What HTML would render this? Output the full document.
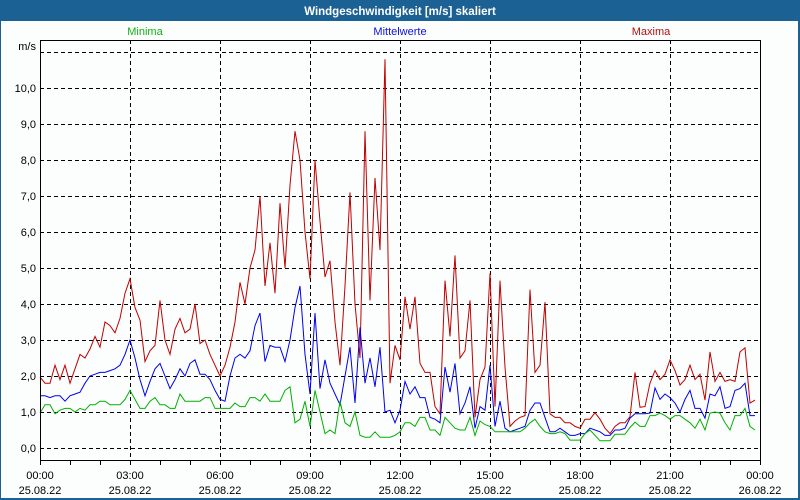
<!DOCTYPE html>
<html><head><meta charset="utf-8"><style>
body{margin:0;background:#fff;}
svg{display:block;font-family:"Liberation Sans","DejaVu Sans",sans-serif;}
</style></head><body>
<svg width="800" height="500" viewBox="0 0 800 500" id="chart">
<rect x="0" y="0" width="800" height="500" fill="#1c6194"/>
<rect x="1" y="21" width="797" height="477" fill="#fcfefe"/>
<text x="400" y="15" text-anchor="middle" fill="#fff" font-size="11.5" font-weight="bold">Windgeschwindigkeit [m/s] skaliert</text>
<text x="145" y="35" text-anchor="middle" fill="#12b012" font-size="11">Minima</text>
<text x="400" y="35" text-anchor="middle" fill="#1010d0" font-size="11">Mittelwerte</text>
<text x="651" y="35" text-anchor="middle" fill="#b01010" font-size="11">Maxima</text>
<text x="36" y="50" text-anchor="end" fill="#000" font-size="11">m/s</text>
<g id="grid"></g>
<g id="series"></g>
<rect x="40.5" y="40.5" width="720" height="420" fill="none" stroke="#000" stroke-width="1"/>
<g id="axes"></g>
</svg>
<script>
const yTicks=[0,1,2,3,4,5,6,7,8,9,10];
const yTickLabels=["0,0","1,0","2,0","3,0","4,0","5,0","6,0","7,0","8,0","9,0","10,0"];
const xTickHours=[0,3,6,9,12,15,18,21,24];
const xTimeLabels=["00:00","03:00","06:00","09:00","12:00","15:00","18:00","21:00","00:00"];
const xDateLabels=["25.08.22","25.08.22","25.08.22","25.08.22","25.08.22","25.08.22","25.08.22","25.08.22","26.08.22"];
const maxima=[1.97,1.8,1.8,2.3,1.9,2.3,1.8,2.2,2.6,2.5,2.75,3.1,
2.8,3.5,3.4,3.2,3.6,4.3,4.7,3.9,3.55,2.4,2.7,2.85,
4.1,3.0,2.6,3.3,3.6,3.2,3.3,4.0,2.9,3.0,2.6,2.3,
2.0,2.3,2.8,3.5,4.6,4.0,5.0,5.5,7.0,4.5,5.7,4.3,
6.8,5.0,7.3,8.8,8.0,6.0,4.7,8.0,6.3,4.75,5.2,3.5,
2.3,4.5,7.1,4.0,2.5,8.8,4.1,7.5,5.5,10.8,1.8,2.85,
2.45,4.2,3.3,4.2,2.35,2.1,2.1,1.15,0.95,4.65,3.1,5.35,
2.5,2.7,4.1,0.85,1.9,2.25,4.85,1.15,4.65,2.25,0.6,0.75,
0.85,0.9,4.4,2.1,2.3,4.05,0.95,0.85,0.85,0.7,0.7,0.6,
0.55,0.8,0.8,0.98,0.8,0.55,0.4,0.6,0.7,0.7,0.87,2.1,
1.13,1.15,1.8,2.15,1.9,2.05,2.45,2.15,1.75,1.9,2.3,1.9,
2.05,1.33,2.67,1.85,2.1,1.85,1.9,1.85,2.67,2.78,1.25,1.33];
const mittelwerte=[1.45,1.45,1.4,1.45,1.45,1.3,1.45,1.5,1.55,1.8,2.0,2.05,
2.1,2.1,2.15,2.2,2.3,2.6,3.0,2.5,1.9,1.45,1.85,2.2,
2.35,2.0,1.65,1.9,2.2,2.0,2.35,2.45,2.05,2.05,1.9,1.6,
1.35,1.3,2.0,2.5,2.6,2.5,2.7,3.4,3.75,2.4,2.85,2.8,
2.8,2.4,3.0,3.9,4.5,2.6,1.5,3.75,1.65,2.45,1.8,1.5,
1.2,2.0,2.8,1.25,3.35,1.8,2.5,1.7,2.8,1.0,1.05,0.7,
1.05,1.85,1.5,1.7,1.4,1.4,0.85,0.8,0.7,2.25,1.55,2.35,
0.95,1.25,1.7,0.55,1.15,1.05,2.3,0.6,1.3,0.55,0.45,0.5,
0.55,0.6,1.05,1.25,1.25,0.85,0.45,0.45,0.55,0.45,0.35,0.35,
0.4,0.4,0.55,0.5,0.45,0.35,0.35,0.5,0.5,0.55,0.83,0.95,
0.95,0.95,0.97,1.67,1.35,1.5,1.4,1.25,1.0,1.35,1.6,1.1,
1.1,0.83,1.5,1.45,1.7,1.1,1.15,1.6,1.65,1.8,0.9,0.9];
const minima=[0.97,1.2,1.2,0.95,1.05,1.1,1.1,1.0,1.1,1.05,1.2,1.2,
1.3,1.3,1.2,1.2,1.2,1.35,1.6,1.35,1.1,1.1,1.3,1.4,
1.2,1.2,1.1,1.1,1.5,1.3,1.3,1.3,1.3,1.4,1.4,1.1,
1.1,1.1,1.1,1.25,1.15,1.15,1.4,1.4,1.3,1.5,1.3,1.3,
1.3,1.6,1.7,0.7,0.8,1.3,0.6,1.6,1.0,0.4,0.5,0.4,
1.3,0.7,0.6,1.0,0.35,0.3,0.3,0.45,0.3,0.3,0.3,0.35,
0.45,0.7,0.7,0.6,0.85,0.85,0.5,0.5,0.35,0.85,0.7,0.55,
0.5,0.5,0.85,0.35,0.75,0.65,0.6,0.45,0.45,0.45,0.45,0.45,
0.45,0.55,0.7,0.8,0.6,0.45,0.4,0.4,0.45,0.4,0.22,0.22,
0.22,0.4,0.5,0.35,0.2,0.2,0.2,0.38,0.38,0.38,0.57,0.72,
0.6,0.6,0.9,0.9,0.97,0.9,0.8,0.9,0.9,0.8,0.7,0.55,
0.8,0.5,0.97,1.0,0.97,0.7,0.5,0.9,0.9,1.1,0.6,0.5];

const NS="http://www.w3.org/2000/svg";
const X0=40,X1=760,Y0=448,PXU=36;
function xHour(h){return X0+(X1-X0)*h/24;}
function xIdx(i){return xHour(i/6);}
function yVal(v){return Y0-v*PXU;}
function mk(tag,attrs,parent){const e=document.createElementNS(NS,tag);for(const k in attrs)e.setAttribute(k,attrs[k]);parent.appendChild(e);return e;}
const grid=document.getElementById('grid'),axes=document.getElementById('axes'),series=document.getElementById('series');
for(let k=0;k<=11;k++){
  const y=Math.round(yVal(k))+0.5;
  const l=mk('line',{x1:X0,x2:X1,y1:y,y2:y,stroke:'#000','stroke-dasharray':'4,3'},grid);
  
  
}
xTickHours.forEach((h,i)=>{
  if(i>0&&i<xTickHours.length-1){
    const x=Math.round(xHour(h))+0.5;
    const l=mk('line',{x1:x,x2:x,y1:40,y2:460,stroke:'#000','stroke-dasharray':'4,3'},grid);
    
    
  }
});
yTicks.forEach((v,i)=>{
  const t=mk('text',{x:36,y:yVal(v)+4,'text-anchor':'end','font-size':'11',fill:'#000'},axes);
  t.textContent=yTickLabels[i];
  
  
});
for(let h=0;h<=24;h++){
  const x=Math.round(xHour(h))+0.5;
  const l=mk('line',{x1:x,x2:x,y1:460,y2:465,stroke:'#000'},axes);
  
  
}
xTickHours.forEach((h,i)=>{
  const x=xHour(h);
  const t1=mk('text',{x:x,y:479,'text-anchor':'middle','font-size':'11',fill:'#000'},axes);
  t1.textContent=xTimeLabels[i];
  
  
  const t2=mk('text',{x:x,y:494,'text-anchor':'middle','font-size':'11',fill:'#000'},axes);
  t2.textContent=xDateLabels[i];
  
  
});
function drawLine(arr,color,name){
  const pts=arr.map((v,i)=>xIdx(i).toFixed(1)+','+yVal(v).toFixed(1)).join(' ');
  const p=mk('polyline',{points:pts,fill:'none',stroke:color,'stroke-width':'1'},series);
  
  
}
drawLine(maxima,'#c00000','series-maxima');
drawLine(mittelwerte,'#0000ee','series-mittelwerte');
drawLine(minima,'#00b000','series-minima');
</script>
</body></html>
